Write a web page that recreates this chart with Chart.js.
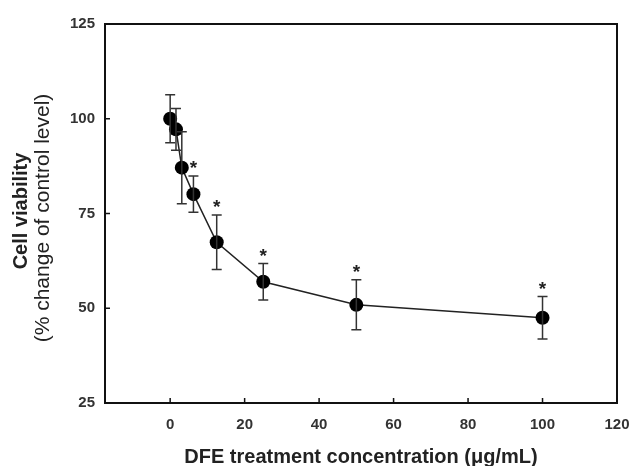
<!DOCTYPE html>
<html>
<head>
<meta charset="utf-8">
<style>
* { margin: 0; padding: 0; }
body { background: #fff; }
</style>
</head>
<body>
<canvas id="myChart" width="631" height="466"></canvas>
<script src="https://cdn.jsdelivr.net/npm/chart.js"></script>
<script>
// data
const conc = [0, 1.5625, 3.125, 6.25, 12.5, 25, 50, 100];
const viability = [100, 97.2, 87.1, 80.1, 67.4, 57.0, 50.9, 47.5];
const sd = [6.3, 5.5, 9.5, 4.8, 7.2, 4.8, 6.6, 5.6];
const significant = [false, false, false, true, true, true, true, true];
const xTicks = [0, 20, 40, 60, 80, 100, 120];
const yTicks = [25, 50, 75, 100, 125];

const FONT = "'Liberation Sans', Arial, sans-serif";

// error bars, asterisks, frame and inward tick marks
const extras = {
  id: 'extras',
  afterDatasetsDraw(chart) {
    const ctx = chart.ctx;
    const xs = chart.scales.x, ys = chart.scales.y;
    const area = chart.chartArea;
    ctx.save();
    ctx.strokeStyle = '#333';
    ctx.lineWidth = 1.5;
    conc.forEach((c, i) => {
      const px = xs.getPixelForValue(c);
      const top = ys.getPixelForValue(viability[i] + sd[i]);
      const bot = ys.getPixelForValue(viability[i] - sd[i]);
      ctx.beginPath();
      ctx.moveTo(px, top); ctx.lineTo(px, bot);
      ctx.moveTo(px - 5, top); ctx.lineTo(px + 5, top);
      ctx.moveTo(px - 5, bot); ctx.lineTo(px + 5, bot);
      ctx.stroke();
      if (significant[i]) {
        ctx.fillStyle = '#222';
        ctx.font = 'bold 19px ' + FONT;
        ctx.textAlign = 'center';
        ctx.textBaseline = 'middle';
        ctx.fillText('*', px, top - 7);
      }
    });
    // frame
    ctx.strokeStyle = '#111';
    ctx.lineWidth = 2;
    ctx.strokeRect(area.left, area.top, area.right - area.left, area.bottom - area.top);
    // inward ticks
    ctx.lineWidth = 1.5;
    ctx.beginPath();
    xTicks.forEach(v => {
      const px = xs.getPixelForValue(v);
      ctx.moveTo(px, area.bottom); ctx.lineTo(px, area.bottom - 5);
    });
    yTicks.forEach(v => {
      const py = ys.getPixelForValue(v);
      ctx.moveTo(area.left, py); ctx.lineTo(area.left + 5, py);
    });
    ctx.stroke();
    ctx.restore();

    // y axis title, two lines
    ctx.save();
    ctx.fillStyle = '#222';
    ctx.textAlign = 'center';
    ctx.textBaseline = 'middle';
    ctx.translate(21, 211);
    ctx.rotate(-Math.PI / 2);
    ctx.font = 'bold 20px ' + FONT;
    ctx.fillText('Cell viability', 0, 0);
    ctx.restore();
    ctx.save();
    ctx.fillStyle = '#222';
    ctx.textAlign = 'center';
    ctx.textBaseline = 'middle';
    ctx.translate(43, 218);
    ctx.rotate(-Math.PI / 2);
    ctx.font = '21px ' + FONT;
    ctx.fillText('(% change of control level)', 0, 0);
    ctx.restore();
  }
};

const data = {
  datasets: [{
    label: 'Cell viability',
    data: conc.map((c, i) => ({ x: c, y: viability[i] })),
    borderColor: '#222',
    borderWidth: 1.5,
    pointRadius: 7,
    pointBackgroundColor: '#000',
    pointBorderColor: '#000',
    pointBorderWidth: 0,
    tension: 0
  }]
};

const config = {
  type: 'line',
  data,
  options: {
    responsive: false,
    animation: false,
    layout: { padding: { left: 0, right: 14, top: 24, bottom: 0 } },
    plugins: { legend: { display: false }, tooltip: { enabled: false } },
    scales: {
      x: {
        type: 'linear',
        min: -17.5,
        max: 120,
        afterBuildTicks: s => { s.ticks = xTicks.map(v => ({ value: v })); },
        afterFit: s => { s.height = 63; s.paddingLeft = 0; s.paddingRight = 0; },
        grid: { display: false, drawTicks: false },
        border: { display: false },
        ticks: { padding: 13, color: '#333', font: { family: FONT, size: 15, weight: 'bold' } },
        title: { display: true, text: 'DFE treatment concentration (\u03bcg/mL)', color: '#222',
                 font: { family: FONT, size: 20, weight: 'bold' }, padding: { top: 6, bottom: -3 } }
      },
      y: {
        min: 25,
        max: 125,
        afterBuildTicks: s => { s.ticks = yTicks.map(v => ({ value: v })); },
        afterFit: s => { s.width = 105; },
        grid: { display: false, drawTicks: false },
        border: { display: false },
        ticks: { padding: 10, color: '#333', font: { family: FONT, size: 15, weight: 'bold' } }
      }
    }
  },
  plugins: [extras]
};

const myChart = new Chart(document.getElementById('myChart'), config);
</script>
</body>
</html>
